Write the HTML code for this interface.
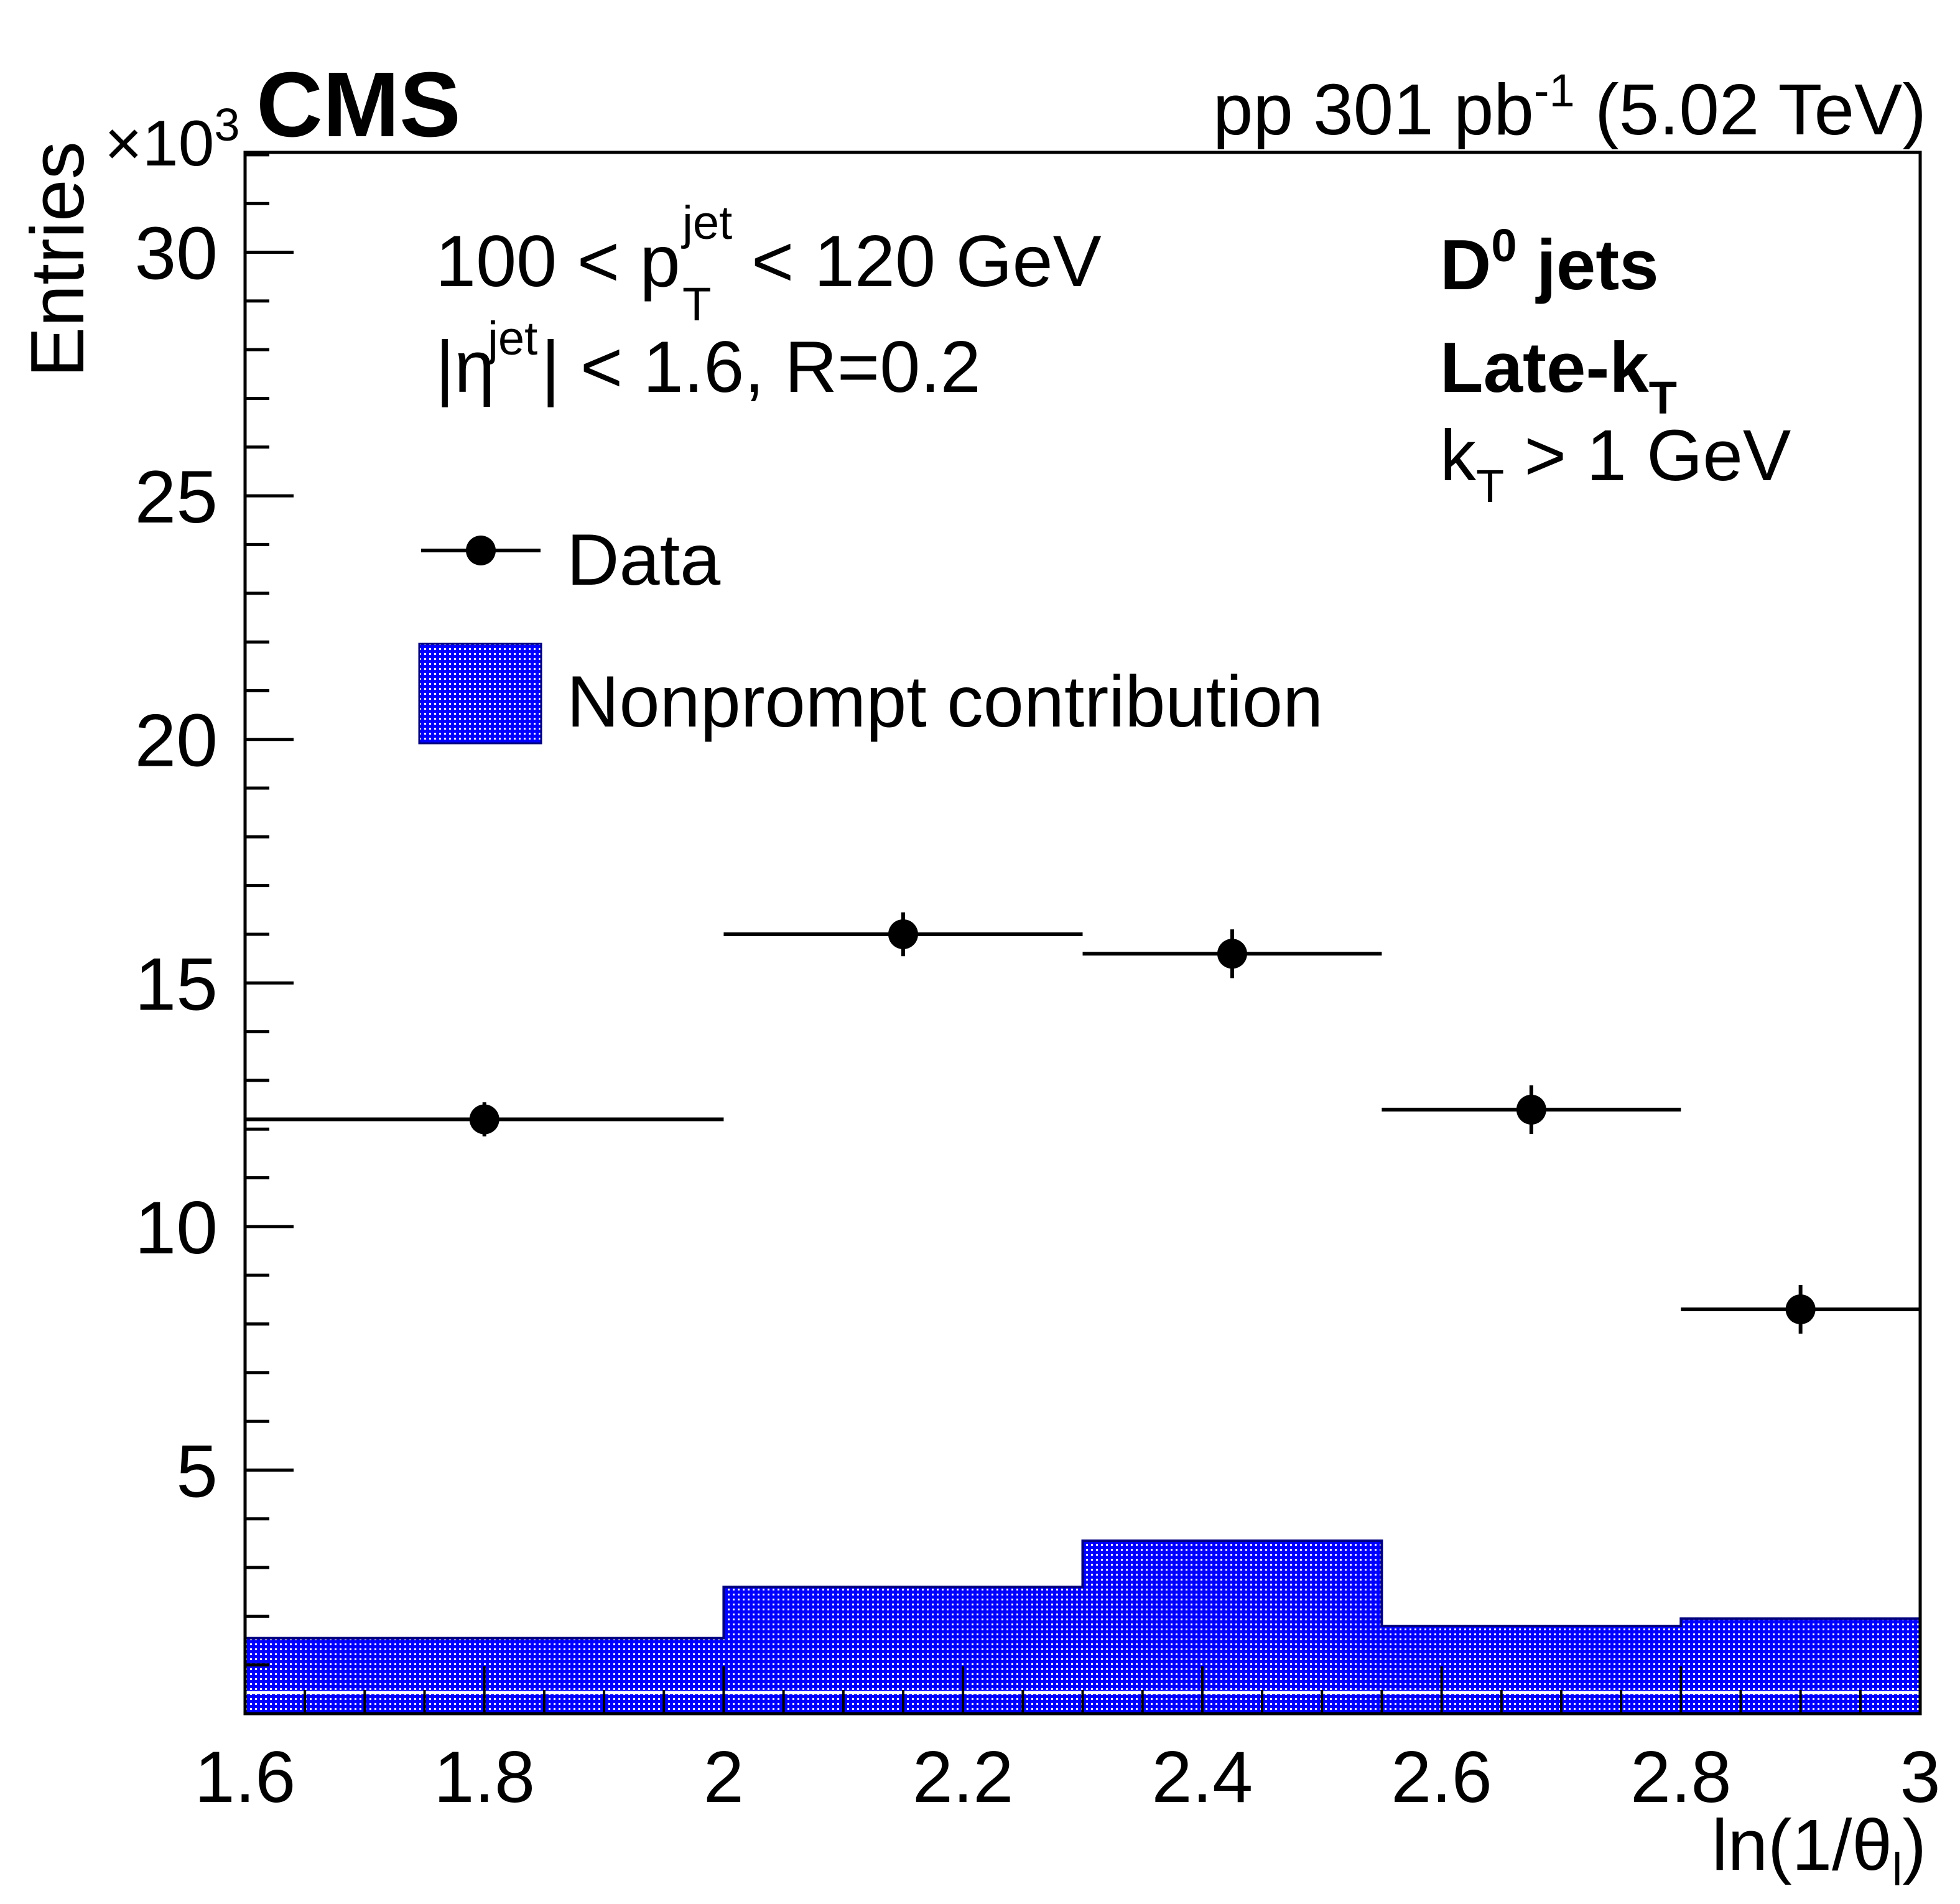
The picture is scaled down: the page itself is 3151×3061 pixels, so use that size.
<!DOCTYPE html>
<html><head><meta charset="utf-8"><style>
html,body{margin:0;padding:0;background:#fff}
svg{display:block}
text{font-family:"Liberation Sans",sans-serif;fill:#000}
</style></head><body>
<svg id="chart" width="3151" height="3061" viewBox="0 0 3151 3061" xmlns="http://www.w3.org/2000/svg">
<defs>
<pattern id="dots" width="8" height="8" patternUnits="userSpaceOnUse">
<rect width="8" height="8" fill="#0000ff"/>
<rect x="2" y="2" width="3" height="3" fill="#ffffff"/>
</pattern>
</defs>
<g id="plot"></g>
<text x="412" y="219" font-size="148" font-weight="bold">CMS</text>
<text x="3097" y="216" font-size="116" text-anchor="end">pp 301 pb<tspan dy="-45" font-size="74">-1</tspan><tspan dy="45"> (5.02 TeV)</tspan></text>
<text x="168" y="266" font-size="104">×10<tspan dy="-40" font-size="74">3</tspan></text>
<text transform="translate(134,607) rotate(-90)" font-size="122">Entries</text>
<text x="3097" y="3006" font-size="116" text-anchor="end">ln(1/θ<tspan dy="25" font-size="74">l</tspan><tspan dy="-25">)</tspan></text>
<g>
<text x="700" y="460" font-size="117">100 &lt; p</text>
<text x="1097" y="384" font-size="76">jet</text>
<text x="1097" y="515" font-size="76">T</text>
<text x="1208" y="460" font-size="117">&lt; 120 GeV</text>
</g>
<g>
<text x="700" y="630" font-size="117">|η</text>
<text x="784" y="570" font-size="76">jet</text>
<text x="870" y="630" font-size="117">| &lt; 1.6, R=0.2</text>
</g>
<text x="2315" y="465" font-size="114" font-weight="bold">D<tspan dy="-45" font-size="74">0</tspan><tspan dy="45"> jets</tspan></text>
<text x="2315" y="630" font-size="114" font-weight="bold">Late-k<tspan dy="35" font-size="74">T</tspan></text>
<text x="2315" y="772" font-size="116">k<tspan dy="35" font-size="74">T</tspan><tspan dy="-35"> &gt; 1 GeV</tspan></text>
<g>
<line x1="677" y1="885" x2="869" y2="885" stroke="#000" stroke-width="6"/>
<circle cx="773" cy="885" r="24" fill="#000"/>
<text x="911" y="940" font-size="117">Data</text>
<rect x="674" y="1035" width="196" height="160" fill="url(#dots)" stroke="#000080" stroke-width="3"/>
<text x="911" y="1168" font-size="117">Nonprompt contribution</text>
</g>
</svg>
<script>
const binEdges = [1.6, 2.0, 2.3, 2.55, 2.8, 3.0];
const binCenters = [1.8, 2.15, 2.425, 2.675, 2.9];
const dataValues = [12.2, 16.0, 15.6, 12.4, 8.3];
const dataErrors = [0.35, 0.45, 0.5, 0.5, 0.5];
const nonpromptValues = [1.55, 2.6, 3.55, 1.8, 1.95];
const xTickLabels = ["1.6","1.8","2","2.2","2.4","2.6","2.8","3"];
const yTickLabels = ["5","10","15","20","25","30"];

const L=394,R=3087,T=245,B=2755,XMIN=1.6,XMAX=3.0,YMIN=0,YMAX=32.05;
const xs=v=>L+(v-XMIN)/(XMAX-XMIN)*(R-L);
const ys=v=>B-(v-YMIN)/(YMAX-YMIN)*(B-T);
const NS="http://www.w3.org/2000/svg";
const g=document.getElementById('plot');
function mk(tag,attrs,parent){const e=document.createElementNS(NS,tag);for(const k in attrs)e.setAttribute(k,attrs[k]);(parent||g).appendChild(e);return e;}

let d="M"+xs(binEdges[0])+","+ys(0);
for(let i=0;i<nonpromptValues.length;i++){d+=" L"+xs(binEdges[i])+","+ys(nonpromptValues[i])+" L"+xs(binEdges[i+1])+","+ys(nonpromptValues[i]);}
d+=" L"+xs(binEdges[binEdges.length-1])+","+ys(0)+" Z";
const hist=mk('path',{d:d,fill:"url(#dots)",stroke:"#000080","stroke-width":4});


const wl=mk('line',{x1:L,x2:R,y1:B-34,y2:B-34,stroke:"#fff","stroke-width":5});



const fr=mk('rect',{x:L,y:T,width:R-L,height:B-T,fill:"none",stroke:"#000","stroke-width":5});



for(let v=1;v<=32;v++){
  const major=v%5===0;
  const t=mk('line',{x1:L,x2:L+(major?78:39),y1:ys(v),y2:ys(v),stroke:"#000","stroke-width":5});
  
  
}
yTickLabels.forEach(s=>{
  const t=mk('text',{x:350,y:ys(+s)+43,"font-size":120,"text-anchor":"end"});
  t.textContent=s;
  
  
});
for(let i=0;i<=28;i++){
  const v=XMIN+i*0.05;const major=i%4===0;
  const t=mk('line',{x1:xs(v),x2:xs(v),y1:B,y2:B-(major?76:38),stroke:"#000","stroke-width":4});
  
  
}
xTickLabels.forEach(s=>{
  const t=mk('text',{x:xs(+s),y:2897,"font-size":117,"text-anchor":"middle"});
  t.textContent=s;
  
  
});
dataValues.forEach((v,i)=>{
  const grp=mk('g',{});
  
  
  mk('line',{x1:xs(binEdges[i]),x2:xs(binEdges[i+1]),y1:ys(v),y2:ys(v),stroke:"#000","stroke-width":6},grp);
  mk('line',{x1:xs(binCenters[i]),x2:xs(binCenters[i]),y1:ys(v-dataErrors[i]),y2:ys(v+dataErrors[i]),stroke:"#000","stroke-width":6},grp);
  mk('circle',{cx:xs(binCenters[i]),cy:ys(v),r:24,fill:"#000"},grp);
});
</script>
</body></html>
